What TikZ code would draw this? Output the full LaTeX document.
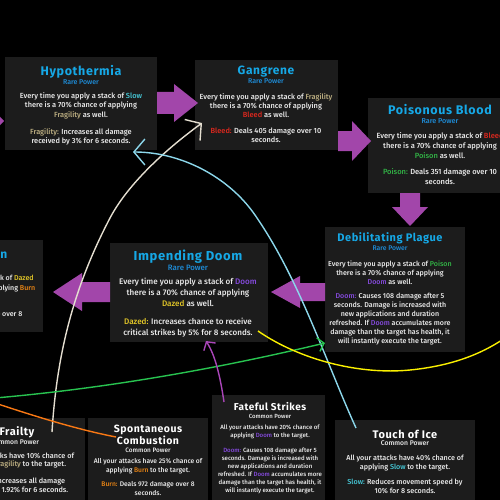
\documentclass[tikz,border=0pt]{standalone}
\usepackage{fontspec}
\setmainfont{Fira Sans}[UprightFont={* Medium}]
\newfontfamily\titlefont{Fira Sans}[LetterSpace=5]
\usetikzlibrary{arrows.meta}
\definecolor{cardgray}{RGB}{28,28,28}
\definecolor{rarecyan}{RGB}{22,168,230}
\definecolor{raresub}{RGB}{30,140,215}
\definecolor{bodywhite}{RGB}{236,236,236}
\definecolor{slowc}{RGB}{70,200,215}
\definecolor{fragc}{RGB}{190,176,130}
\definecolor{bleedc}{RGB}{225,40,30}
\definecolor{poisonc}{RGB}{50,180,70}
\definecolor{doomc}{RGB}{135,75,225}
\definecolor{dazedc}{RGB}{228,200,40}
\definecolor{burnc}{RGB}{232,132,20}
\definecolor{blockpurple}{RGB}{162,70,170}
\definecolor{linegreen}{RGB}{40,195,80}
\definecolor{lineorange}{RGB}{248,120,20}
\definecolor{lineyellow}{RGB}{250,240,0}
\definecolor{lineblue}{RGB}{140,215,235}
\definecolor{linecream}{RGB}{228,222,208}
\definecolor{linepurple}{RGB}{170,70,185}
\newcommand\kw[2]{\textcolor{#1}{#2}}
\begin{document}
\begin{tikzpicture}[x=1pt, y=-1pt,
  card/.style={fill=cardgray, inner sep=0pt, anchor=north west},
  raretitle/.style={font={\titlefont\bfseries\fontsize{#1}{#1}\selectfont}, text=rarecyan, inner sep=0pt},
  commontitle/.style={font={\titlefont\bfseries\fontsize{#1}{12}\selectfont}, text=white, inner sep=0pt, align=center},
  sub/.style={font={\fontsize{#1}{#1}\selectfont}, inner sep=0pt},
  body/.style 2 args={font={\fontsize{#1}{#2}\selectfont}, text=bodywhite, align=center, inner sep=0pt, anchor=north},
  biglink/.style={line width=1.4pt, -{Straight Barb[length=11pt, width=26pt]}},
  link/.style={line width=1.4pt, -{Straight Barb[length=6pt, width=14pt]}}]
\fill[black] (0,0) rectangle (500,500);
\useasboundingbox (0,0) rectangle (500,500);
\clip (0,0) rectangle (500,500);

\node[card, minimum width=152pt, minimum height=93pt] (hypo) at (5,57) {};
\node[card, minimum width=143pt, minimum height=90pt] (gang) at (195,60) {};
\node[card, minimum width=150pt, minimum height=95pt] (poison) at (368,98) {};
\node[card, minimum width=140pt, minimum height=125pt] (debil) at (325,227) {};
\node[card, minimum width=158pt, minimum height=99pt] (impend) at (110,243) {};
\node[card, minimum width=123pt, minimum height=92pt] (burncard) at (-80,240) {};
\node[card, minimum width=145pt, minimum height=90pt] (frail) at (-60,418) {};
\node[card, minimum width=120pt, minimum height=90pt] (spont) at (88,418) {};
\node[card, minimum width=113pt, minimum height=110pt] (fate) at (212,395) {};
\node[card, minimum width=140pt, minimum height=90pt] (touch) at (335,420) {};

\fill[blockpurple] (-20,113) -- (-12,113) -- (-12,104) -- (4,121) -- (-12,138) -- (-12,129) -- (-20,129) -- cycle;
\fill[blockpurple] (157,92) -- (174,92) -- (174,84) -- (198,103) -- (174,122) -- (174,114) -- (157,114) -- cycle;
\fill[blockpurple] (338,131) -- (352,131) -- (352,121) -- (371,141) -- (352,161) -- (352,151) -- (338,151) -- cycle;
\fill[blockpurple] (400,193) -- (420,193) -- (420,207) -- (428,207) -- (410,226) -- (392,207) -- (400,207) -- cycle;
\fill[blockpurple] (325,283) -- (300,283) -- (300,276) -- (271,292) -- (300,308) -- (300,301) -- (325,301) -- cycle;
\fill[blockpurple] (110,282) -- (82,282) -- (82,273) -- (53,292) -- (82,311) -- (82,302) -- (110,302) -- cycle;

\node[raretitle=12.5] (hypot) at (81,72) {Hypothermia};
\node[sub=7, text=raresub] (hypos) at (81,82) {Rare Power};
\node[body={7.4}{9.6}] (hypob) at (81,92.2) {Every time you apply a stack of \kw{slowc}{Slow}\\
there is a 70\% chance of applying\\
\kw{fragc}{Fragility} as well.\\[7pt]
\kw{fragc}{Fragility:} Increases all damage\\
received by 3\% for 6 seconds.};

\node[raretitle=12] (gangt) at (266,72) {Gangrene};
\node[sub=7, text=raresub] (gangs) at (266,81) {Rare Power};
\node[body={7.4}{9.3}] (gangb) at (266,93.2) {Every time you apply a stack of \kw{fragc}{Fragility}\\
there is a 70\% chance of applying\\
\kw{bleedc}{Bleed} as well.\\[6pt]
\kw{bleedc}{Bleed:} Deals 405 damage over 10\\
seconds.};

\node[raretitle=12.5] (poisont) at (440,110) {Poisonous Blood};
\node[sub=7.2, text=raresub] (poisons) at (440,121) {Rare Power};
\node[body={7.5}{10}] (poisonb) at (440,132.2) {Every time you apply a stack of \kw{bleedc}{Bleed}\\
there is a 70\% chance of applying\\
\kw{poisonc}{Poison} as well.\\[6pt]
\kw{poisonc}{Poison:} Deals 351 damage over 10\\
seconds.};

\node[raretitle=11] (debilt) at (390,238) {Debilitating Plague};
\node[sub=6.8, text=raresub] (debils) at (390,248) {Rare Power};
\node[body={7.1}{8.9}] (debilb) at (390,260.4) {Every time you apply a stack of \kw{poisonc}{Poison}\\
there is a 70\% chance of applying\\
\kw{doomc}{Doom} as well.\\[6pt]
\kw{doomc}{Doom:} Causes 108 damage after 5\\
seconds. Damage is increased with\\
new applications and duration\\
refreshed. If \kw{doomc}{Doom} accumulates more\\
damage than the target has health, it\\
will instantly execute the target.};

\node[raretitle=13] (impendt) at (188,257) {Impending Doom};
\node[sub=7.8, text=raresub] (impends) at (188,268) {Rare Power};
\node[body={8.1}{10.7}] (impendb) at (188,278) {Every time you apply a stack of \kw{doomc}{Doom}\\
there is a 70\% chance of applying\\
\kw{dazedc}{Dazed} as well.\\[8pt]
\kw{dazedc}{Dazed:} Increases chance to receive\\
critical strikes by 5\% for 8 seconds.};

\node[raretitle=12, anchor=east] (burnt) at (7.5,255) {n};
\node[body={7.1}{10}] (burnb) at (-27,274.4) {Every time you apply a stack of \kw{dazedc}{Dazed}\\
there is a 70\% chance of applying \kw{burnc}{Burn}\\
as well.\\[6pt]
\kw{burnc}{Burn:} Deals 972 damage over 8\\
seconds.};

\node[commontitle=11] (frailt) at (17,432) {Frailty};
\node[sub=6.8, text=bodywhite] (frails) at (15,442) {Common Power};
\node[body={7.3}{8.8}] (frailb) at (15,452.3) {All your attacks have 10\% chance of\\
applying \kw{fragc}{Fragility} to the target.\\[8pt]
\kw{fragc}{Fragility:} Increases all damage\\
received by 1.92\% for 6 seconds.};

\node[commontitle=10.5] (spontt) at (148,435) {Spontaneous\\Combustion};
\node[sub=6.4, text=bodywhite] (sponts) at (148,450) {Common Power};
\node[body={6.7}{9}] (spontb) at (148,458.6) {All your attacks have 25\% chance of\\
applying \kw{burnc}{Burn} to the target.\\[5pt]
\kw{burnc}{Burn:} Deals 972 damage over 8\\
seconds.};

\node[commontitle=10] (fatet) at (270,407) {Fateful Strikes};
\node[sub=6, text=bodywhite] (fates) at (270,416) {Common Power};
\node[body={6.1}{8}] (fateb) at (270,424.8) {All your attacks have 20\% chance of\\
applying \kw{doomc}{Doom} to the target.\\[7pt]
\kw{doomc}{Doom:} Causes 108 damage after 5\\
seconds. Damage is increased with\\
new applications and duration\\
refreshed. If \kw{doomc}{Doom} accumulates more\\
damage than the target has health, it\\
will instantly execute the target.};

\node[commontitle=11] (toucht) at (405,434) {Touch of Ice};
\node[sub=6.8, text=bodywhite] (touchs) at (405,443) {Common Power};
\node[body={7.2}{9}] (touchb) at (405,454.4) {All your attacks have 40\% chance of\\
applying \kw{slowc}{Slow} to the target.\\[6pt]
\kw{slowc}{Slow:} Reduces movement speed by\\
10\% for 8 seconds.};

\coordinate (frailtop) at (52,432);
\coordinate (creammid) at (110,218);
\coordinate (gangin) at (202,123);
\coordinate (touchtop) at (356,428);
\coordinate (bluemid) at (255,215);
\coordinate (hypoin) at (133,152);
\coordinate (farleft) at (-5,398);
\coordinate (debilin) at (325,343);
\coordinate (spontin) at (116,437);
\coordinate (orangeout) at (-5,403);
\coordinate (impendout) at (258,331);
\coordinate (yellowmid) at (410,370);
\coordinate (yellowout) at (505,338);
\coordinate (fatetop) at (224,402);
\coordinate (impendin) at (206,341);

\draw[biglink, linecream] (frailtop) .. controls (57,350) and (75,285) .. (creammid) .. controls (128,184) and (165,150) .. (gangin);
\draw[biglink, lineblue] (touchtop) .. controls (325,360) and (300,280) .. (bluemid) .. controls (228,176) and (180,152) .. (hypoin);
\draw[link, linegreen] (farleft) .. controls (110,388) and (220,368) .. (debilin);
\draw[line width=1.4pt, lineorange] (orangeout) .. controls (40,418) and (80,430) .. (spontin);
\draw[line width=1.4pt, lineyellow] (impendout) .. controls (300,360) and (360,375) .. (yellowmid) .. controls (450,366) and (480,355) .. (yellowout);
\draw[link, linepurple] (fatetop) .. controls (220,375) and (215,355) .. (impendin);
\end{tikzpicture}
\end{document}
